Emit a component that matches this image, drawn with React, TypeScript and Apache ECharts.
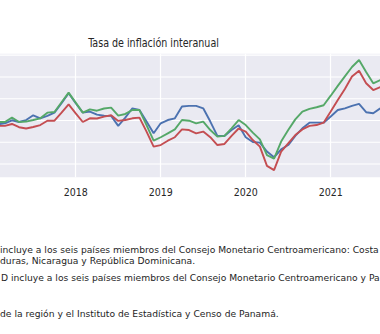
import React, { useEffect, useRef } from "react";
import * as echarts from "echarts";

// Monthly series, first point = February 2017
const START_YEAR = 2017;
const START_MONTH = 2;

const yearLabels = ["2018", "2019", "2020", "2021"];
const yTicks = [1, 2, 3, 4, 5, 6];

const seriesNames = ["Serie azul", "Serie verde", "Serie roja"];

const blueValues = [
  2.82, 2.87, 3.01, 2.93, 3.02, 3.24, 3.10, 3.21, 3.36, 3.79, 4.25,
  3.79, 3.36, 3.41, 3.27, 3.22, 3.21, 2.75, 3.13, 3.56, 3.48, 2.95, 2.41,
  2.87, 3.02, 3.10, 3.64, 3.67, 3.67, 3.56, 2.95, 2.29, 2.29, 2.56, 2.78,
  2.23, 2.01, 1.98, 1.57, 1.31, 1.67, 1.87, 2.29, 2.64, 2.90, 2.90, 2.90,
  3.18, 3.48, 3.56, 3.67, 3.76, 3.38, 3.33, 3.56,
];

const greenValues = [
  2.93, 2.93, 3.13, 2.93, 2.95, 3.02, 3.10, 3.36, 3.39, 3.84, 4.28,
  3.82, 3.36, 3.51, 3.45, 3.55, 3.59, 3.22, 3.30, 3.48, 3.48, 2.79, 2.07,
  2.23, 2.41, 2.59, 3.02, 2.99, 2.87, 2.95, 2.56, 2.26, 2.29, 2.64, 3.02,
  2.79, 2.44, 2.13, 1.41, 1.25, 2.03, 2.56, 3.05, 3.41, 3.53, 3.61, 3.70,
  4.14, 4.59, 5.03, 5.46, 5.78, 5.23, 4.71, 4.86,
];

const redValues = [
  2.75, 2.75, 2.84, 2.69, 2.63, 2.70, 2.79, 2.99, 2.99, 3.36, 3.74,
  3.33, 2.93, 3.10, 3.09, 3.18, 3.24, 2.98, 3.02, 3.10, 3.13, 2.49, 1.80,
  1.87, 2.07, 2.23, 2.59, 2.56, 2.41, 2.49, 2.23, 1.87, 1.92, 2.29, 2.63,
  2.49, 2.10, 1.80, 0.91, 0.72, 1.57, 1.95, 2.33, 2.59, 2.75, 2.79, 2.90,
  3.41, 3.94, 4.45, 5.02, 5.29, 4.71, 4.40, 4.53,
];

const titleText = "Tasa de inflación interanual";

const noteLines = [
  "incluye a los seis países miembros del Consejo Monetario Centroamericano: Costa",
  "duras, Nicaragua y República Dominicana.",
  "D incluye a los seis países miembros del Consejo Monetario Centroamericano y Pa",
  "de la región y el Instituto de Estadística y Censo de Panamá.",
];

const months = blueValues.map((_, i) => {
  const t = START_MONTH - 1 + i;
  const y = START_YEAR + Math.floor(t / 12);
  const m = (t % 12) + 1;
  return `${y}-${String(m).padStart(2, "0")}`;
});

const isYearStart = (_idx: number, val: string) =>
  val.endsWith("-01") && yearLabels.includes(val.slice(0, 4));

function measure(text: string, font: string): number {
  const c = document.createElement("canvas").getContext("2d");
  if (!c) return text.length * 5;
  c.font = font;
  return c.measureText(text).width;
}

const OFFSET_X = 20;

export default function App() {
  const ref = useRef<HTMLDivElement>(null);

  useEffect(() => {
    if (!ref.current) return;
    const chart = echarts.init(ref.current, null, { renderer: "svg" });

    const noteFont = '9.3px "DejaVu Sans"';
    const noteScale = 379 / measure(noteLines[0], noteFont);
    const titleFont = '11.5px "DejaVu Sans"';
    const titleScale = 131 / measure(titleText, titleFont);

    const notePos = [
      [0, 249.5],
      [0, 260],
      [1, 277],
      [0, 313],
    ];

    const colors = ["#4C72B0", "#55A868", "#C44E52"];
    const values = [blueValues, greenValues, redValues];

    const option: any = {
      animation: false,
      grid: {
        left: 17.8,
        right: 19.7,
        top: 53.7,
        bottom: 156.7,
        show: true,
        backgroundColor: "#EAEAF2",
        borderWidth: 0,
      },
      xAxis: {
        type: "category",
        data: months,
        boundaryGap: false,
        axisLine: { show: false },
        axisTick: { show: false },
        splitLine: {
          show: true,
          interval: isYearStart,
          lineStyle: { color: "#ffffff", width: 1.2 },
        },
        axisLabel: {
          interval: isYearStart,
          formatter: (v: string) => v.slice(0, 4),
          color: "#262626",
          fontSize: 10.5,
          fontFamily: '"Liberation Sans Narrow", "DejaVu Sans Condensed", sans-serif',
          margin: 9,
        },
      },
      yAxis: {
        type: "value",
        min: 0.388,
        max: 6.07,
        axisLine: { show: false },
        axisTick: { show: false },
        axisLabel: { show: false },
        splitLine: { show: false },
      },
      series: [
        ...yTicks.map((k) => ({
          type: "line",
          data: months.map(() => k),
          symbol: "none",
          silent: true,
          z: 1,
          lineStyle: { color: "#ffffff", width: 1.2 },
        })),
        ...values.map((d, i) => ({
          type: "line",
          name: seriesNames[i],
          data: d,
          symbol: "none",
          silent: true,
          z: 3,
          lineStyle: { color: colors[i], width: 1.9 },
          itemStyle: { color: colors[i] },
        })),
      ],
      graphic: [
        {
          type: "text",
          x: 153.5 + OFFSET_X,
          y: 43,
          scaleX: titleScale,
          style: {
            text: titleText,
            fontSize: 11.5,
            fontFamily: "DejaVu Sans",
            fill: "#262626",
            align: "center",
            textAlign: "center",
            verticalAlign: "middle",
            textVerticalAlign: "middle",
          },
        },
        ...noteLines.map((t, i) => ({
          type: "text",
          x: notePos[i][0] + OFFSET_X,
          y: notePos[i][1],
          scaleX: noteScale,
          style: {
            text: t,
            fontSize: 9.3,
            fontFamily: "DejaVu Sans",
            fill: "#1e1e1e",
            align: "left",
            textAlign: "left",
            verticalAlign: "middle",
            textVerticalAlign: "middle",
          },
        })),
      ],
    };

    chart.setOption(option);
    return () => chart.dispose();
  }, []);

  return (
    <div
      style={{
        position: "fixed",
        left: 0,
        top: 0,
        width: 380,
        height: 334,
        overflow: "hidden",
        background: "#ffffff",
      }}
    >
      <div
        ref={ref}
        style={{ position: "absolute", left: -OFFSET_X, top: 0, width: 420, height: 334 }}
      />
    </div>
  );
}
